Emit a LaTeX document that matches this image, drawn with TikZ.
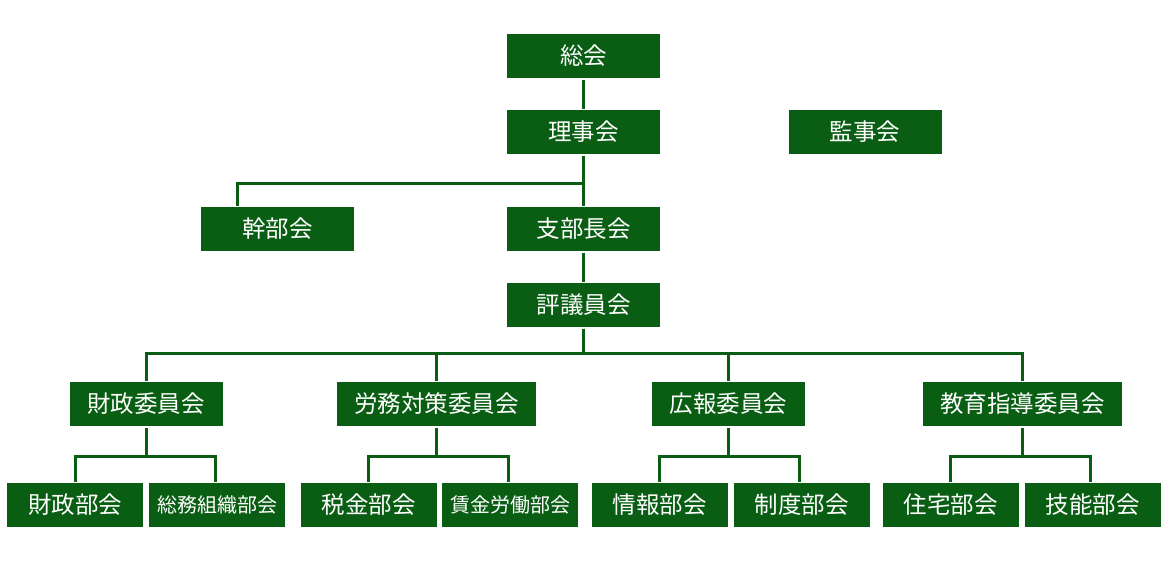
\documentclass[tikz,border=0pt]{standalone}
\usepackage{fontspec}
\setmainfont{Noto Sans CJK JP}
\usepackage{tikz}
\usetikzlibrary{calc}

\definecolor{jgreen}{RGB}{10,94,20}

\begin{document}
\begin{tikzpicture}[x=1pt, y=-1pt, line width=3pt, draw=jgreen,
		box/.style={fill=jgreen, text=white, inner sep=0pt, minimum width=153pt, minimum height=44pt, font=\fontsize{23.5}{23.5}\selectfont},
		wide/.style={box, minimum width=199pt},
		sub/.style={box, minimum width=136pt},
		small/.style={sub, font=\fontsize{20}{20}\selectfont}]
		\useasboundingbox (0,0) rectangle (1170,570);

		\node[box] (sokai) at (583.5, 56) {総会};
		\node[box] (riji) at (583.5, 132) {理事会};
		\node[box] (kanji) at (865, 132) {監事会};
		\node[box] (kanbu) at (277.5, 229) {幹部会};
		\node[box] (shibu) at (583.5, 229) {支部長会};
		\node[box] (hyogi) at (583.5, 305) {評議員会};

		\node[box] (zaisei) at (146, 404) {財政委員会};
		\node[wide] (romu) at (436.5, 404) {労務対策委員会};
		\node[box] (koho) at (728.5, 404) {広報委員会};
		\node[wide] (kyoiku) at (1022.5, 404) {教育指導委員会};

		\node[sub] (zaiseib) at (75, 505) {財政部会};
		\node[small] (somu) at (217, 505) {総務組織部会};
		\node[sub] (zeikin) at (368.5, 505) {税金部会};
		\node[small] (chingin) at (510, 505) {賃金労働部会};
		\node[sub] (joho) at (659.5, 505) {情報部会};
		\node[sub] (seido) at (801.5, 505) {制度部会};
		\node[sub] (jutaku) at (950.5, 505) {住宅部会};
		\node[sub] (gino) at (1092.5, 505) {技能部会};

		\draw (sokai) -- (riji);
		\draw (riji) -- (shibu);
		\draw (shibu) -- (hyogi);
		\draw (riji.south) -- ++(0,28) -| ([xshift=-40pt]kanbu.north);

		\coordinate (bus) at (583.5, 353);
		\foreach \c in {zaisei, romu, koho, kyoiku}
			\draw (hyogi.south) -- (bus) -| (\c.north);

		\foreach \c/\a/\b in {zaisei/zaiseib/somu, romu/zeikin/chingin, koho/joho/seido, kyoiku/jutaku/gino} {
			\draw (\c.south) -- ++(0,28.5) coordinate (j) -| (\a.north);
			\draw (j) -| ([xshift=-2pt]\b.north);
		}
	\end{tikzpicture}
\end{document}
